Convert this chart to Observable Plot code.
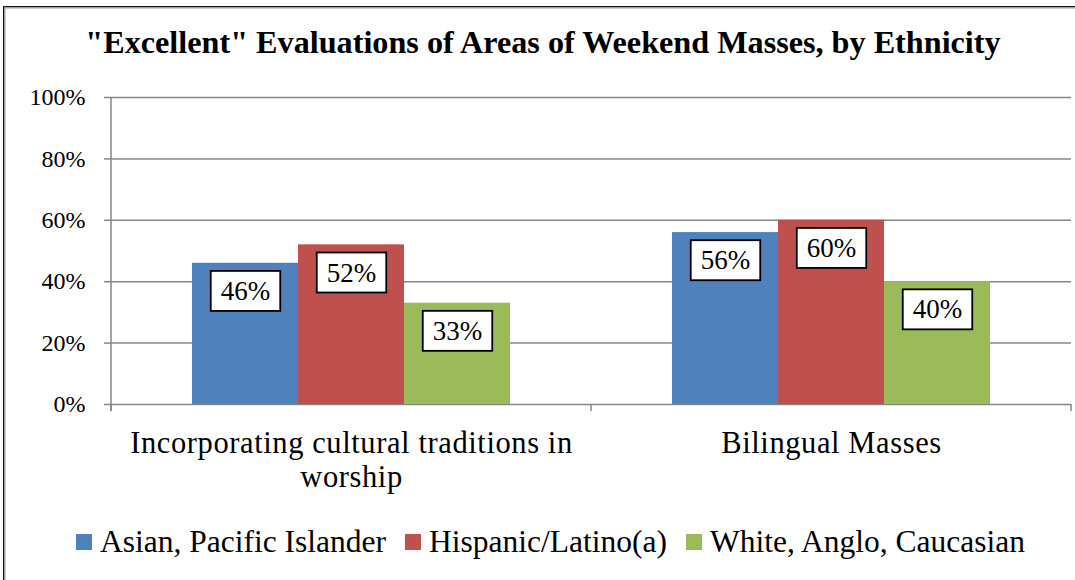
<!DOCTYPE html>
<html><head><meta charset="utf-8">
<script src="https://cdn.jsdelivr.net/npm/d3@7"></script>
<script src="https://cdn.jsdelivr.net/npm/@observablehq/plot@0.6"></script>
<style>
body{margin:0;background:#fff;}
#wrap{position:relative;width:1075px;height:580px;overflow:hidden;color:#000;background:#fff;}
#frame{position:absolute;left:3px;top:6px;width:1100px;height:620px;border:1.5px solid #111;box-shadow:inset 0 0 0 1.5px #a0a0a0;box-sizing:border-box;}
#title{position:absolute;left:543px;top:26px;transform:translateX(-50%);white-space:nowrap;font-weight:bold;font-size:32.2px;line-height:1;}
#chart{position:absolute;left:0;top:0;}
#legend{position:absolute;left:76px;top:526px;display:flex;align-items:center;font-size:31.5px;line-height:1;white-space:nowrap;}
.item{display:flex;align-items:center;margin-right:19px;}
.sw{width:16px;height:16px;margin-right:8px;}
</style></head>
<body>
<div id="wrap">
  <div id="frame"></div>
  <div id="title"></div>
  <div id="chart"></div>
  <div id="legend"></div>
</div>
<script>
const FONT = "Liberation Serif";
const titleText = "\"Excellent\" Evaluations of Areas of Weekend Masses, by Ethnicity";
const categories = ["Incorporating cultural traditions in worship", "Bilingual Masses"];
const categoryLabels = ["Incorporating cultural traditions in\nworship", "Bilingual Masses"];
const series = ["Asian, Pacific Islander", "Hispanic/Latino(a)", "White, Anglo, Caucasian"];
const asian = [0.46, 0.56];
const hispanic = [0.52, 0.60];
const white = [0.33, 0.40];
const colors = ["#4F81BD", "#C0504D", "#9BBB59"];
const yTicks = [0, 0.2, 0.4, 0.6, 0.8, 1.0];

const seriesValues = [asian, hispanic, white];
const data = categories.flatMap((c, i) => series.map((s, j) => ({category: c, series: s, value: seriesValues[j][i]})));
const pct = v => Math.round(v * 100) + "%";

d3.select("#wrap").style("font-family", "'Liberation Serif', Tinos, 'Times New Roman', serif");
d3.select("#title").text(titleText);

const plot = Plot.plot({
  width: 1075,
  height: 500,
  marginLeft: 110,
  marginRight: 4,
  marginTop: 97,
  marginBottom: 96,
  style: {background: "transparent", overflow: "visible", color: "#000"},
  fx: {domain: categories, padding: 0, axis: null, label: null},
  x: {domain: series, paddingInner: 0, paddingOuter: 0.745, axis: null, label: null},
  y: {domain: [0, 1], axis: null, label: null},
  color: {domain: series, range: colors},
  marks: [
    Plot.ruleY(yTicks, {stroke: "#868686", strokeWidth: 1.5}),
    Plot.barY(data, {fx: "category", x: "series", y: "value", fill: "series"}),
    Plot.axisY({ticks: yTicks, tickFormat: pct, tickSize: 7, tickPadding: 19, fontSize: 24, stroke: "#868686", strokeWidth: 1.5, fill: "#000", label: null}),
    Plot.text(data, {fx: "category", x: "series", y: "value", text: d => pct(d.value), dy: 28, fontSize: 27, fill: "#000", lineAnchor: "middle"}),
    Plot.text(categories, {fx: d => d, text: (d, i) => categoryLabels[i], frameAnchor: "bottom", lineAnchor: "top", dy: 25, fontSize: 30.5, lineHeight: 1.1, fill: "#000"})
  ]
});
d3.select(plot).attr("font-family", FONT).style("font-family", "'Liberation Serif', Tinos, 'Times New Roman', serif");
document.getElementById("chart").appendChild(plot);

// boxes behind value labels
const valueTexts = d3.select(plot).selectAll('g[aria-label="text"] text').filter(function() { return /%$/.test(this.textContent); });
valueTexts.each(function() {
  const b = this.getBBox();
  const padX = 10, padY = 5;
  const node = this;
  d3.select(this.parentNode).insert("rect", function() { return node; })
    .attr("x", b.x - padX).attr("y", b.y - padY)
    .attr("width", b.width + 2 * padX).attr("height", b.height + 2 * padY)
    .attr("transform", node.getAttribute("transform"))
    .attr("fill", "#fff").attr("stroke", "#000").attr("stroke-width", 1.8);
});
d3.select(plot).selectAll('g[aria-label="text"] text').filter(function() { return !/%$/.test(this.textContent); }).style("letter-spacing", "0.6px");

// axis line and category boundary ticks from the scales
const fxS = plot.scale("fx"), yS = plot.scale("y");
const edges = categories.map(c => fxS.apply(c)).concat([fxS.apply(categories[categories.length - 1]) + fxS.bandwidth]);
const y0 = yS.apply(0), y1 = yS.apply(1);
const g = d3.select(plot).append("g").attr("stroke", "#868686").attr("stroke-width", 1.5);
g.append("line").attr("x1", edges[0]).attr("x2", edges[0]).attr("y1", y1).attr("y2", y0 + 7);
edges.forEach(e => g.append("line").attr("x1", e).attr("x2", e).attr("y1", y0).attr("y2", y0 + 7));

// legend
const legend = d3.select("#legend");
series.forEach((s, i) => {
  const it = legend.append("div").attr("class", "item");
  it.append("div").attr("class", "sw").style("background", colors[i]);
  it.append("span").text(s);
});
</script>
</body></html>
